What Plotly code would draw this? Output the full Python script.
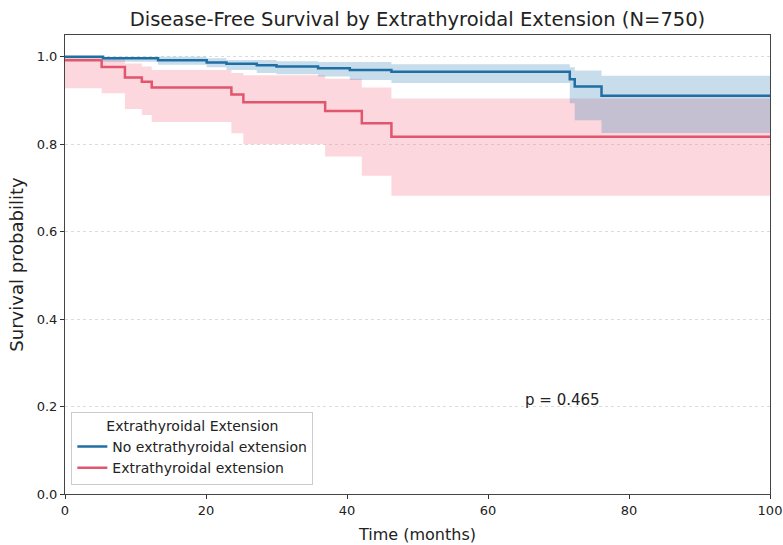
import plotly.graph_objects as go

# Data
blue_name = "No extrathyroidal extension"
red_name = "Extrathyroidal extension"

blue_t = [0, 5.4, 13.2, 20.1, 22.9, 27.2, 30.0, 35.9, 40.4, 46.3, 71.6, 72.3, 76.1, 100]
blue_s = [1.0, 0.997, 0.992, 0.987, 0.984, 0.981, 0.978, 0.974, 0.970, 0.966, 0.949, 0.932, 0.911, 0.911]
blue_lo = [0.996, 0.989, 0.982, 0.976, 0.970, 0.963, 0.960, 0.955, 0.947, 0.940, 0.894, 0.855, 0.826, 0.826]
blue_hi = [1.0, 1.0, 1.0, 0.997, 0.993, 0.993, 0.990, 0.988, 0.988, 0.983, 0.976, 0.969, 0.957, 0.957]

red_t = [0, 5.2, 8.5, 10.9, 12.3, 23.6, 25.3, 36.9, 42.1, 46.3, 100]
red_s = [0.992, 0.977, 0.953, 0.943, 0.930, 0.914, 0.896, 0.876, 0.848, 0.817, 0.817]
red_lo = [0.928, 0.917, 0.881, 0.867, 0.851, 0.825, 0.800, 0.772, 0.728, 0.682, 0.682]
red_hi = [1.0, 0.995, 0.985, 0.978, 0.970, 0.963, 0.958, 0.950, 0.930, 0.905, 0.905]

y_ticks = [0.0, 0.2, 0.4, 0.6, 0.8, 1.0]
x_ticks = [0, 20, 40, 60, 80, 100]
p_text = "p = 0.465"

BLUE = "#1f6fa3"
RED = "#e0566e"
BLUE_BAND = "rgba(31,119,180,0.25)"
RED_BAND = "rgba(245,130,150,0.32)"

fig = go.Figure()

def band(t, lo, hi, color):
    fig.add_trace(go.Scatter(x=t, y=lo, mode="lines", line=dict(width=0, shape="hv"),
                             showlegend=False, hoverinfo="skip"))
    fig.add_trace(go.Scatter(x=t, y=hi, mode="lines", line=dict(width=0, shape="hv"),
                             fill="tonexty", fillcolor=color, showlegend=False, hoverinfo="skip"))

band(red_t, red_lo, red_hi, RED_BAND)
band(blue_t, blue_lo, blue_hi, BLUE_BAND)

fig.add_trace(go.Scatter(x=blue_t, y=blue_s, mode="lines", name=blue_name,
                         line=dict(color=BLUE, width=2.5, shape="hv")))
fig.add_trace(go.Scatter(x=red_t, y=red_s, mode="lines", name=red_name,
                         line=dict(color=RED, width=2.5, shape="hv")))

fig.add_annotation(x=65, y=0.215, xref="x", yref="y", text=p_text, showarrow=False,
                   xanchor="left", yanchor="middle", font=dict(size=15, color="#222"))

font = "DejaVu Sans"
fig.update_layout(
    width=783, height=545,
    margin=dict(l=65, r=13, t=35, b=51),
    plot_bgcolor="white", paper_bgcolor="white",
    font=dict(family=font, color="#222", size=13),
    title=dict(text="Disease-Free Survival by Extrathyroidal Extension (N=750)",
               x=0.5, xref="paper", xanchor="center", y=0.965, yanchor="middle",
               yref="container", font=dict(size=19.5, family=font, color="#222")),
    xaxis=dict(range=[0, 100], tickvals=x_ticks, ticks="outside", ticklen=4,
               tickcolor="#333", showline=True, linecolor="#444", linewidth=1, mirror=True,
               showgrid=False, zeroline=False, automargin=False,
               title=dict(text="Time (months)", font=dict(size=16), standoff=12)),
    yaxis=dict(range=[0, 1.05], tickvals=y_ticks, tickformat=".1f", ticks="outside",
               ticklen=4, tickcolor="#333", showline=True, linecolor="#444", linewidth=1,
               mirror=True, showgrid=True, gridcolor="#dcdcdc", griddash="dot",
               zeroline=False, automargin=False,
               title=dict(text="Survival probability", font=dict(size=18), standoff=8)),
    legend=dict(x=0.009, y=0.02, xanchor="left", yanchor="bottom", traceorder="normal",
                bgcolor="white", bordercolor="#cccccc", borderwidth=1,
                font=dict(size=14),
                title=dict(text="Extrathyroidal Extension", side="top center",
                           font=dict(size=14))),
)

fig.write_html("out.html", config={"displayModeBar": False},
               post_script="document.body.style.margin='0';")
